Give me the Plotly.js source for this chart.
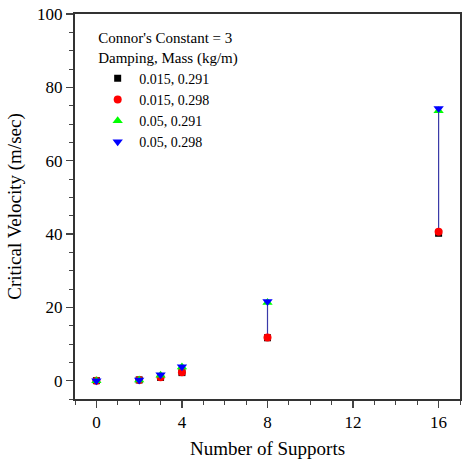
<!DOCTYPE html>
<html><head><meta charset="utf-8">
<script src="https://cdn.plot.ly/plotly-3.0.1.min.js"></script>
<style>body{margin:0;background:#fff}#chart{width:470px;height:459px}</style>
</head><body><div id="chart"></div>
<script>
var supports = [0, 2, 3, 4, 8, 16];
var s1_d015_m291 = [0.0, 0.2, 0.9, 2.2, 11.7, 40.2];
var s2_d015_m298 = [0.0, 0.2, 0.9, 2.3, 11.8, 40.6];
var s3_d05_m291 = [0.0, 0.2, 1.5, 3.7, 21.3, 73.6];
var s4_d05_m298 = [0.0, 0.2, 1.6, 3.8, 21.6, 74.2];
var seriesNames = ["0.015, 0.291", "0.015, 0.298", "0.05, 0.291", "0.05, 0.298"];

var lx = [], ly = [];
for (var i = 0; i < supports.length; i++) {
  var vals = [s1_d015_m291[i], s2_d015_m298[i], s3_d05_m291[i], s4_d05_m298[i]];
  lx.push(supports[i], supports[i], null);
  ly.push(Math.min.apply(null, vals), Math.max.apply(null, vals), null);
}
var font = "'Liberation Serif', 'Times New Roman', serif";
var traces = [
  {x: lx, y: ly, mode: 'lines', line: {color: '#3a3aa8', width: 1.2}, showlegend: false, hoverinfo: 'skip'},
  {x: supports, y: s1_d015_m291, mode: 'markers', name: seriesNames[0], marker: {symbol: 'square', color: '#000000', size: 7}},
  {x: supports, y: s2_d015_m298, mode: 'markers', name: seriesNames[1], marker: {symbol: 'circle', color: '#ff0000', size: 8}},
  {x: supports, y: s3_d05_m291, mode: 'markers', name: seriesNames[2], marker: {symbol: 'triangle-up', color: '#00ff00', size: 9}},
  {x: supports, y: s4_d05_m298, mode: 'markers', name: seriesNames[3], marker: {symbol: 'triangle-down', color: '#0000ff', size: 9}}
];
var layout = {
  width: 470, height: 459,
  margin: {l: 75, r: 10, t: 14, b: 60},
  paper_bgcolor: '#fff', plot_bgcolor: '#fff',
  font: {family: font, color: '#000', size: 16},
  showlegend: true,
  legend: {
    x: 0.055, y: 0.975, xanchor: 'left', yanchor: 'top',
    bgcolor: 'rgba(0,0,0,0)', font: {family: font, size: 14},
    title: {text: "Connor's Constant = 3<br>Damping, Mass (kg/m)", font: {family: font, size: 15}, side: 'top'},
    tracegroupgap: 0, itemwidth: 33
  },
  xaxis: {
    range: [-1, 17], tickvals: [0, 4, 8, 12, 16], ticks: 'outside', ticklen: 7, tickwidth: 1.2,
    minor: {dtick: 1, ticks: 'outside', ticklen: 4, tickwidth: 1},
    showgrid: false, zeroline: false, showline: true, linewidth: 2, linecolor: '#333', mirror: true,
    tickfont: {size: 17},
    title: {text: 'Number of Supports', font: {size: 19}, standoff: 12}
  },
  yaxis: {
    range: [-5, 100], tickvals: [0, 20, 40, 60, 80, 100], ticks: 'outside', ticklen: 7, tickwidth: 1.2,
    minor: {dtick: 5, tick0: 0, ticks: 'outside', ticklen: 4, tickwidth: 1},
    showgrid: false, zeroline: false, showline: true, linewidth: 2, linecolor: '#333', mirror: true,
    tickfont: {size: 17},
    title: {text: 'Critical Velocity (m/sec)', font: {size: 19}, standoff: 10}
  }
};
Plotly.newPlot('chart', traces, layout, {displayModeBar: false, staticPlot: true});
</script></body></html>
